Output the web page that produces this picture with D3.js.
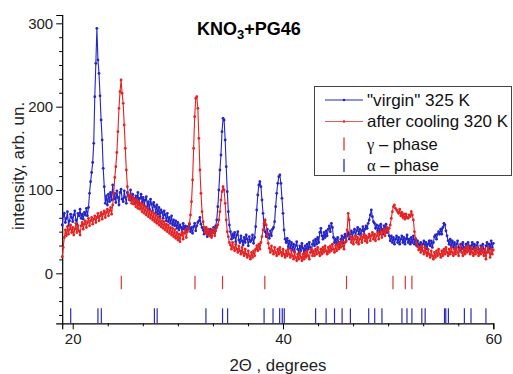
<!DOCTYPE html>
<html>
<head>
<meta charset="utf-8">
<script src="https://cdn.jsdelivr.net/npm/d3@7"></script>
<style>
  html, body { margin: 0; padding: 0; background: #fff; }
  svg { display: block; }
  text { font-family: Arial, "Liberation Sans", Helvetica, sans-serif; }
</style>
</head>
<body>
<svg id="chart" width="513" height="374"></svg>
<script>
// 2θ scan: first angle and step (degrees)
const scanStart = 19.0;
const scanStep = 0.1;

// "virgin" 325 K, one row per degree (x.0 … x.9)
const virginValues = [
  58, 69, 72, 61, 66, 74, 57, 63, 71, 67,   // 19
  62, 70, 75, 64, 59, 72, 69, 77, 66, 71,   // 20
  65, 73, 70, 78, 69, 79, 96, 110, 121, 133, // 21
  156, 212, 252, 294, 256, 240, 213, 184, 160, 126, // 22
  104, 84, 93, 82, 95, 86, 97, 88, 106, 89, // 23
  96, 85, 99, 91, 82, 97, 101, 89, 86, 99,  // 24
  91, 84, 97, 93, 88, 100, 87, 95, 90, 84,  // 25
  93, 86, 97, 83, 90, 95, 85, 91, 82, 88,   // 26
  92, 80, 86, 77, 89, 83, 75, 85, 80, 73,   // 27
  82, 71, 79, 68, 76, 73, 66, 75, 70, 63,   // 28
  72, 62, 67, 60, 69, 58, 64, 57, 63, 54,   // 29
  61, 52, 58, 55, 49, 60, 53, 57, 50, 56,   // 30
  53, 59, 50, 55, 48, 56, 60, 51, 57, 61,   // 31
  63, 67, 59, 55, 52, 47, 53, 49, 44, 50,   // 32
  47, 53, 45, 51, 55, 48, 57, 64, 80, 100,  // 33
  124, 142, 170, 186, 184, 160, 128, 98, 74, 58, // 34
  50, 41, 47, 43, 49, 38, 46, 50, 40, 37,   // 35
  45, 39, 34, 43, 37, 46, 41, 33, 44, 38,   // 36
  40, 46, 36, 43, 56, 76, 94, 106, 110, 104, // 37
  88, 72, 58, 50, 44, 53, 47, 42, 51, 45,   // 38
  53, 55, 62, 80, 96, 108, 116, 118, 108, 90, // 39
  72, 52, 41, 37, 42, 32, 39, 30, 37, 28,   // 40
  35, 26, 33, 38, 29, 24, 33, 27, 36, 30,   // 41
  24, 33, 27, 35, 29, 37, 31, 26, 35, 39,   // 42
  33, 41, 35, 43, 37, 49, 54, 45, 41, 49,   // 43
  43, 51, 45, 53, 57, 50, 60, 55, 43, 37,   // 44
  41, 35, 43, 37, 32, 41, 45, 36, 43, 47,   // 45
  39, 45, 49, 41, 47, 51, 43, 49, 53, 45,   // 46
  51, 55, 47, 53, 45, 51, 56, 47, 53, 57,   // 47
  54, 60, 64, 70, 76, 68, 62, 60, 54, 58,   // 48
  51, 57, 49, 59, 53, 47, 57, 51, 59, 49,   // 49
  54, 45, 39, 45, 37, 43, 35, 41, 45, 37,   // 50
  43, 35, 41, 45, 37, 43, 35, 41, 46, 37,   // 51
  41, 35, 43, 37, 45, 35, 41, 33, 39, 35,   // 52
  31, 37, 29, 35, 39, 31, 37, 29, 35, 39,   // 53
  33, 39, 31, 37, 44, 46, 41, 47, 50, 47,   // 54
  53, 47, 55, 60, 58, 51, 45, 39, 35, 41,   // 55
  33, 39, 31, 37, 29, 35, 39, 31, 27, 35,   // 56
  29, 37, 31, 27, 35, 29, 37, 33, 25, 33,   // 57
  37, 29, 35, 27, 33, 37, 29, 25, 33, 27,   // 58
  35, 29, 25, 33, 37, 27, 35, 29, 39, 31,   // 59
  36                                        // 60
];

// after cooling 320 K, same angle grid
const cooledValues = [
  20, 31, 43, 52, 45, 56, 47, 53, 58, 49,   // 19
  55, 46, 53, 60, 49, 57, 51, 46, 57, 61,   // 20
  53, 59, 63, 55, 61, 66, 57, 63, 67, 59,   // 21
  65, 69, 61, 67, 72, 63, 69, 73, 65, 71,   // 22
  75, 67, 73, 77, 69, 75, 79, 71, 82, 96,   // 23
  115, 128, 145, 170, 198, 218, 232, 216, 204, 178, // 24
  150, 124, 104, 93, 89, 94, 84, 91, 83, 89, // 25
  80, 88, 78, 86, 77, 84, 74, 82, 72, 80,   // 26
  70, 78, 68, 75, 66, 74, 64, 72, 62, 70,   // 27
  60, 68, 58, 66, 56, 63, 54, 62, 52, 59,   // 28
  50, 58, 48, 55, 46, 54, 44, 52, 42, 49,   // 29
  40, 47, 38, 46, 50, 41, 48, 52, 43, 50,   // 30
  54, 60, 70, 86, 112, 150, 188, 210, 212, 198, // 31
  162, 124, 96, 74, 62, 55, 49, 55, 47, 53, // 32
  45, 51, 43, 49, 53, 45, 51, 55, 58, 64,   // 33
  74, 88, 98, 104, 100, 84, 64, 50, 44, 37, // 34
  34, 29, 37, 31, 27, 35, 29, 25, 33, 27,   // 35
  23, 31, 25, 21, 29, 23, 19, 27, 21, 17,   // 36
  25, 19, 27, 21, 29, 33, 27, 35, 29, 37,   // 37
  44, 52, 60, 64, 58, 46, 36, 30, 25, 33,   // 38
  27, 23, 31, 25, 21, 29, 23, 31, 25, 21,   // 39
  29, 23, 19, 27, 21, 29, 23, 19, 27, 21,   // 40
  17, 25, 19, 15, 23, 17, 25, 19, 15, 23,   // 41
  17, 25, 19, 27, 21, 17, 25, 29, 21, 27,   // 42
  21, 29, 23, 31, 25, 21, 29, 23, 31, 25,   // 43
  33, 27, 23, 31, 25, 33, 27, 35, 29, 25,   // 44
  33, 27, 35, 29, 37, 31, 39, 33, 29, 37,   // 45
  38, 52, 72, 64, 44, 37, 43, 35, 41, 45,   // 46
  37, 43, 35, 41, 45, 37, 43, 47, 39, 45,   // 47
  37, 43, 47, 39, 45, 49, 41, 47, 39, 45,   // 48
  49, 41, 47, 51, 43, 49, 53, 45, 51, 55,   // 49
  50, 54, 58, 66, 74, 80, 82, 78, 76, 74,   // 50
  72, 77, 69, 73, 67, 71, 65, 71, 67, 66,   // 51
  70, 68, 74, 70, 64, 50, 42, 36, 32, 28,   // 52
  31, 25, 33, 27, 23, 31, 25, 21, 29, 23,   // 53
  19, 27, 21, 17, 25, 19, 27, 21, 29, 23,   // 54
  19, 27, 21, 29, 23, 31, 25, 21, 29, 23,   // 55
  31, 25, 21, 29, 23, 31, 25, 21, 29, 33,   // 56
  25, 21, 29, 23, 31, 25, 33, 27, 23, 31,   // 57
  25, 21, 29, 23, 31, 25, 21, 29, 23, 31,   // 58
  25, 21, 29, 17, 25, 31, 25, 19, 29, 23,   // 59
  28                                        // 60
];

// Reference reflection positions (2θ, degrees)
const gammaPhase = [24.62, 31.63, 34.25, 38.27, 46.04, 50.46, 51.63, 52.26];
const alphaPhase = [19.81, 22.40, 22.72, 27.77, 28.03, 32.67, 34.25, 34.73,
  38.20, 39.05, 39.68, 39.93, 40.12, 43.10, 44.10, 44.90, 45.62, 46.41,
  48.15, 48.72, 49.41, 51.31, 51.79, 52.26, 53.20, 53.52, 55.36, 55.48,
  55.73, 57.25, 57.88, 59.30];

const xTickValues = [20, 40, 60];
const yTickValues = [0, 100, 200, 300];

const seriesNames = ['"virgin" 325 K', 'after cooling 320 K'];

const BLUE = "#2424c8";
const RED = "#e42222";

const svg = d3.select("#chart");

const x = d3.scaleLinear().domain([19, 60]).range([62.2, 493.3]);
const y = d3.scaleLinear().domain([-60, 310]).range([323.3, 15]);

const toPoints = vals => vals.map((v, i) => ({ t: scanStart + i * scanStep, v }));
const series = [
  { name: seriesNames[0], color: BLUE, pts: toPoints(virginValues) },
  { name: seriesNames[1], color: RED, pts: toPoints(cooledValues) }
];

// Axes: minor ticks every 1/6 of a major step
const xMinor = d3.range(0, 13).map(i => 20 + i * 20 / 6).filter(v => !xTickValues.some(m => Math.abs(m - v) < 1e-6));
const yMinor = d3.range(-3, 19).map(i => i * 100 / 6).filter(v => v >= -60 && v <= 310 && !yTickValues.some(m => Math.abs(m - v) < 1e-6));

svg.append("g").attr("transform", `translate(0,${y(-60)})`)
  .call(d3.axisBottom(x).tickValues(xTickValues).tickSize(6).tickPadding(4).tickFormat(d3.format("d")));
svg.append("g").attr("transform", `translate(0,${y(-60)})`)
  .call(d3.axisBottom(x).tickValues(xMinor).tickSize(3).tickFormat(""))
  .call(g => g.select(".domain").remove());

svg.append("g").attr("transform", `translate(${x(19)},0)`)
  .call(d3.axisLeft(y).tickValues(yTickValues).tickSize(6).tickPadding(3).tickFormat(d3.format("d")));
svg.append("g").attr("transform", `translate(${x(19)},0)`)
  .call(d3.axisLeft(y).tickValues(yMinor).tickSize(3).tickFormat(""))
  .call(g => g.select(".domain").remove());

svg.selectAll(".domain").attr("stroke", "#000").attr("stroke-width", 1.2);
svg.selectAll(".tick line").attr("stroke", "#000");
svg.selectAll(".tick text").attr("font-size", 15).attr("fill", "#222")
  .attr("font-family", "Arial, 'Liberation Sans', sans-serif");

// Phase reflection markers
svg.append("g").selectAll("line").data(gammaPhase).join("line")
  .attr("x1", d => x(d)).attr("x2", d => x(d))
  .attr("y1", y(-3)).attr("y2", y(-19))
  .attr("stroke", "#d03838").attr("stroke-width", 1.2);
svg.append("g").selectAll("line").data(alphaPhase).join("line")
  .attr("x1", d => x(d)).attr("x2", d => x(d))
  .attr("y1", y(-42)).attr("y2", y(-60))
  .attr("stroke", "#2a2ab4").attr("stroke-width", 1.2);

// Diffraction patterns
const line = d3.line().x(d => x(d.t)).y(d => y(d.v));
series.forEach(s => {
  const g = svg.append("g");
  g.append("path").datum(s.pts).attr("d", line)
    .attr("fill", "none").attr("stroke", s.color).attr("stroke-width", 1.1);
  g.selectAll("circle").data(s.pts).join("circle")
    .attr("cx", d => x(d.t)).attr("cy", d => y(d.v)).attr("r", 1.4)
    .attr("fill", s.color);
});

// Title
const title = svg.append("text").attr("x", 197).attr("y", 35)
  .attr("font-size", 18).attr("font-weight", "bold").attr("fill", "#000");
title.append("tspan").text("KNO");
title.append("tspan").attr("font-size", 13).attr("dy", 4).text("3");
title.append("tspan").attr("dy", -4).text("+PG46");

// Axis titles
svg.append("text").attr("x", 278).attr("y", 371).attr("text-anchor", "middle")
  .attr("font-size", 16).attr("fill", "#222")
  .attr("textLength", 97).attr("lengthAdjust", "spacingAndGlyphs")
  .text("2Θ , degrees");
svg.append("text").attr("transform", "translate(24,166) rotate(-90)")
  .attr("text-anchor", "middle").attr("font-size", 17).attr("fill", "#222")
  .text("intensity, arb. un.");

// Legend
const lg = svg.append("g");
lg.append("rect").attr("x", 314.5).attr("y", 86.5).attr("width", 197).attr("height", 89)
  .attr("fill", "#fff").attr("stroke", "#444").attr("stroke-width", 1);
const rows = [100, 121.5, 144, 165.5];
const rowWidths = [103, 141];
series.forEach((s, i) => {
  lg.append("line").attr("x1", 325).attr("x2", 363).attr("y1", rows[i]).attr("y2", rows[i])
    .attr("stroke", s.color).attr("stroke-width", 1).attr("opacity", i === 1 ? 0.75 : 1);
  lg.append("circle").attr("cx", 344).attr("cy", rows[i]).attr("r", 1.3).attr("fill", s.color);
  lg.append("text").attr("x", 367).attr("y", rows[i] + 5.5).attr("font-size", 16.5)
    .attr("fill", "#111").attr("textLength", rowWidths[i]).attr("lengthAdjust", "spacingAndGlyphs")
    .text(s.name);
});
[["γ", "#d03838"], ["α", "#2a2ab4"]].forEach(([sym, col], j) => {
  const cy = rows[2 + j];
  lg.append("line").attr("x1", 344).attr("x2", 344).attr("y1", cy - 6.5).attr("y2", cy + 6.5)
    .attr("stroke", col).attr("stroke-width", 1.3);
  const t = lg.append("text").attr("x", 367).attr("y", cy + 5.5).attr("font-size", 16.5).attr("fill", "#111");
  t.append("tspan").attr("font-family", "'Liberation Serif', 'DejaVu Serif', serif").text(sym);
  t.append("tspan").text(" – phase");
});
</script>
</body>
</html>
